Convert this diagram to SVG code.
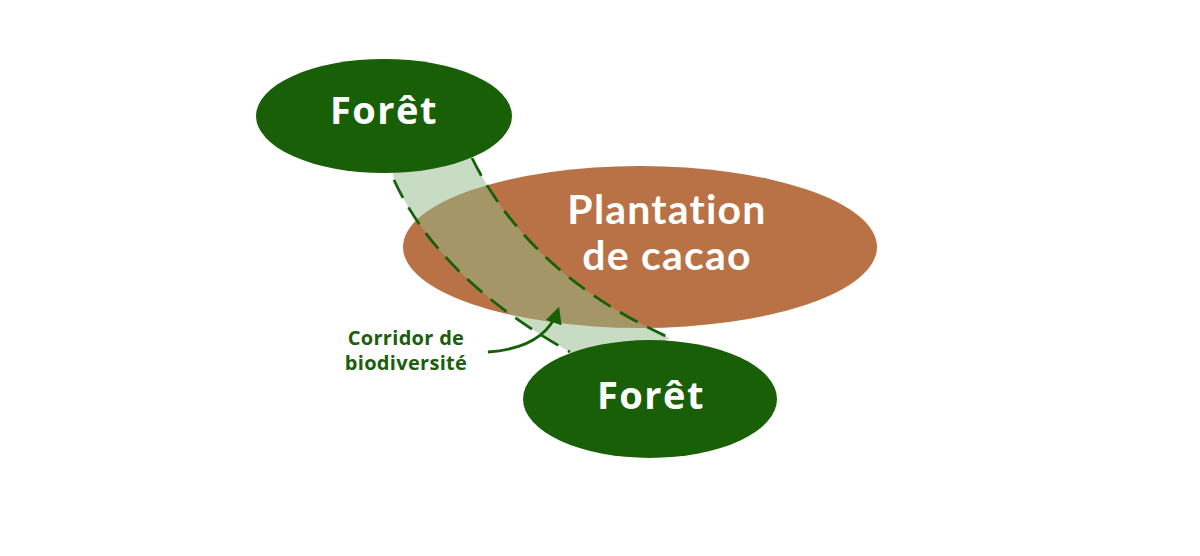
<svg xmlns="http://www.w3.org/2000/svg" width="1200" height="556" viewBox="0 0 1200 556">
<style>
.forest{fill:#185f08}
.big{font-family:"Open Sans","Liberation Sans",sans-serif;font-weight:700;fill:#ffffff;text-anchor:middle}
.plt{font-family:Lato,"Open Sans","Liberation Sans",sans-serif;font-weight:700;fill:#ffffff;text-anchor:middle;font-size:41px;letter-spacing:1.2px}
.lbl{font-family:"Open Sans","Liberation Sans",sans-serif;font-weight:700;fill:#1b5e0d;font-size:20px;text-anchor:middle}
.dash{fill:none;stroke:#17600a;stroke-width:2.8;stroke-dasharray:20 11}
</style>
<defs>
<marker id="ah" viewBox="0 0 10 10" refX="8" refY="5" markerWidth="6" markerHeight="6" orient="auto">
<path d="M0,0 L10,5 L0,10 z" fill="#17600a"/>
</marker>
</defs>
<rect width="1200" height="556" fill="#ffffff"/>
<g id="plantation">
<ellipse cx="640" cy="247" rx="237" ry="81" fill="#b87245"/>
<text class="plt" x="667" y="224">Plantation</text>
<text class="plt" x="667" y="270">de cacao</text>
</g>
<g id="corridor">
<path d="M388,150 L394,180 Q440,280 570,352 L600,380 L670,338 Q530,275 472,158 L462,130 Z" fill="rgb(143,186,135)" fill-opacity="0.5"/>
</g>
<g id="connectors">
<path class="dash" d="M394,180 Q440,280 570,352"/>
<path class="dash" d="M472,158 Q530,275 670,338"/>
<path d="M488,352 Q545,348 558,310" fill="none" stroke="#17600a" stroke-width="2.8" marker-end="url(#ah)"/>
</g>
<g id="foret-haut">
<ellipse class="forest" cx="384" cy="116" rx="128" ry="57"/>
<text class="big" x="384" y="124" font-size="38" letter-spacing="1.5">Forêt</text>
</g>
<g id="foret-bas">
<ellipse class="forest" cx="650" cy="399" rx="127" ry="59"/>
<text class="big" x="651" y="409" font-size="38" letter-spacing="1.5">Forêt</text>
</g>
<g id="label">
<text class="lbl" x="406" y="345" letter-spacing="0.3">Corridor de</text>
<text class="lbl" x="406" y="370" letter-spacing="0.3">biodiversité</text>
</g>
</svg>
